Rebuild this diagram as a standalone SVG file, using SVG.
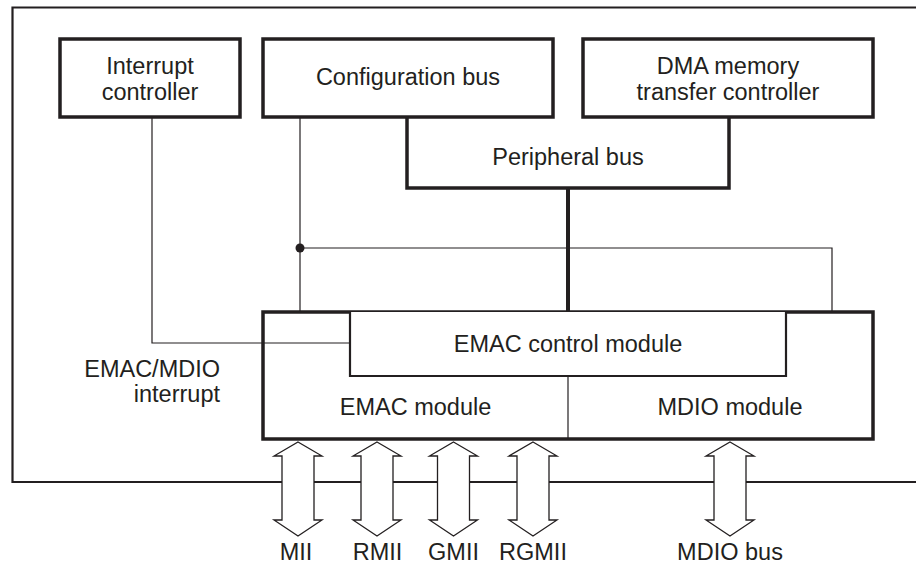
<svg xmlns="http://www.w3.org/2000/svg" width="916" height="565" viewBox="0 0 916 565">
<style>
text{font-family:"Liberation Sans",Arial,sans-serif;font-size:23.5px;fill:#231f20;text-anchor:middle}
.box{fill:#fff;stroke:#231f20;stroke-width:3.5}
.thin{fill:none;stroke:#231f20;stroke-width:1.2}
.arr{fill:#fff;stroke:#231f20;stroke-width:1.3;stroke-linejoin:miter}
</style>
<rect width="916" height="565" fill="#fff"/>
<g id="frame"><path d="M920 7.5H12.5V482H920" fill="none" stroke="#231f20" stroke-width="2.2"/></g>
<g id="connectors">
<path class="thin" d="M152 117V343H350"/>
<path class="thin" d="M300 117V312"/>
<path class="thin" d="M300 248H832V312"/>
<circle cx="300" cy="248" r="4.5" fill="#231f20"/>
<path d="M568 188V312" stroke="#231f20" stroke-width="4" fill="none"/>
</g>
<g id="peripheral-bus">
<path d="M407 117V188H729V117" fill="#fff" stroke="#231f20" stroke-width="3.5"/>
<text x="568" y="165">Peripheral bus</text>
</g>
<g id="interrupt-controller">
<rect class="box" x="60" y="39" width="180" height="78"/>
<text x="150" y="74">Interrupt</text>
<text x="150" y="100">controller</text>
</g>
<g id="configuration-bus">
<rect class="box" x="263" y="39" width="290" height="78"/>
<text x="408" y="85">Configuration bus</text>
</g>
<g id="dma-controller">
<rect class="box" x="583" y="39" width="290" height="78"/>
<text x="728" y="74">DMA memory</text>
<text x="728" y="100">transfer controller</text>
</g>
<g id="emac-subsystem">
<rect x="263" y="312" width="610" height="127" fill="#fff" stroke="#231f20" stroke-width="3.5"/>
<path class="thin" d="M568 376V439"/>
<text x="415.5" y="415">EMAC module</text>
<text x="730" y="415">MDIO module</text>
</g>
<g id="emac-control-module">
<path d="M350 312V376H786V312" fill="#fff" stroke="#231f20" stroke-width="2.2"/>
<path class="thin" d="M263 343H350"/>
<text x="568" y="352">EMAC control module</text>
</g>
<g id="interrupt-label">
<text x="220" y="377" style="text-anchor:end">EMAC/MDIO</text>
<text x="220" y="402" style="text-anchor:end">interrupt</text>
</g>
<g id="arrows">
<polygon class="arr" points="298,442 322,456 314,456 314,520 322,520 298,536 274,520 282,520 282,456 274,456"/>
<polygon class="arr" points="377,442 401,456 393,456 393,520 401,520 377,536 353,520 361,520 361,456 353,456"/>
<polygon class="arr" points="453.5,442 477.5,456 469.5,456 469.5,520 477.5,520 453.5,536 429.5,520 437.5,520 437.5,456 429.5,456"/>
<polygon class="arr" points="533,442 557,456 549,456 549,520 557,520 533,536 509,520 517,520 517,456 509,456"/>
<polygon class="arr" points="730,442 754,456 746,456 746,520 754,520 730,536 706,520 714,520 714,456 706,456"/>
</g>
<g id="port-labels">
<text x="296" y="560">MII</text>
<text x="377.5" y="560">RMII</text>
<text x="453.5" y="560">GMII</text>
<text x="533" y="560">RGMII</text>
<text x="730" y="560">MDIO bus</text>
</g>
</svg>
